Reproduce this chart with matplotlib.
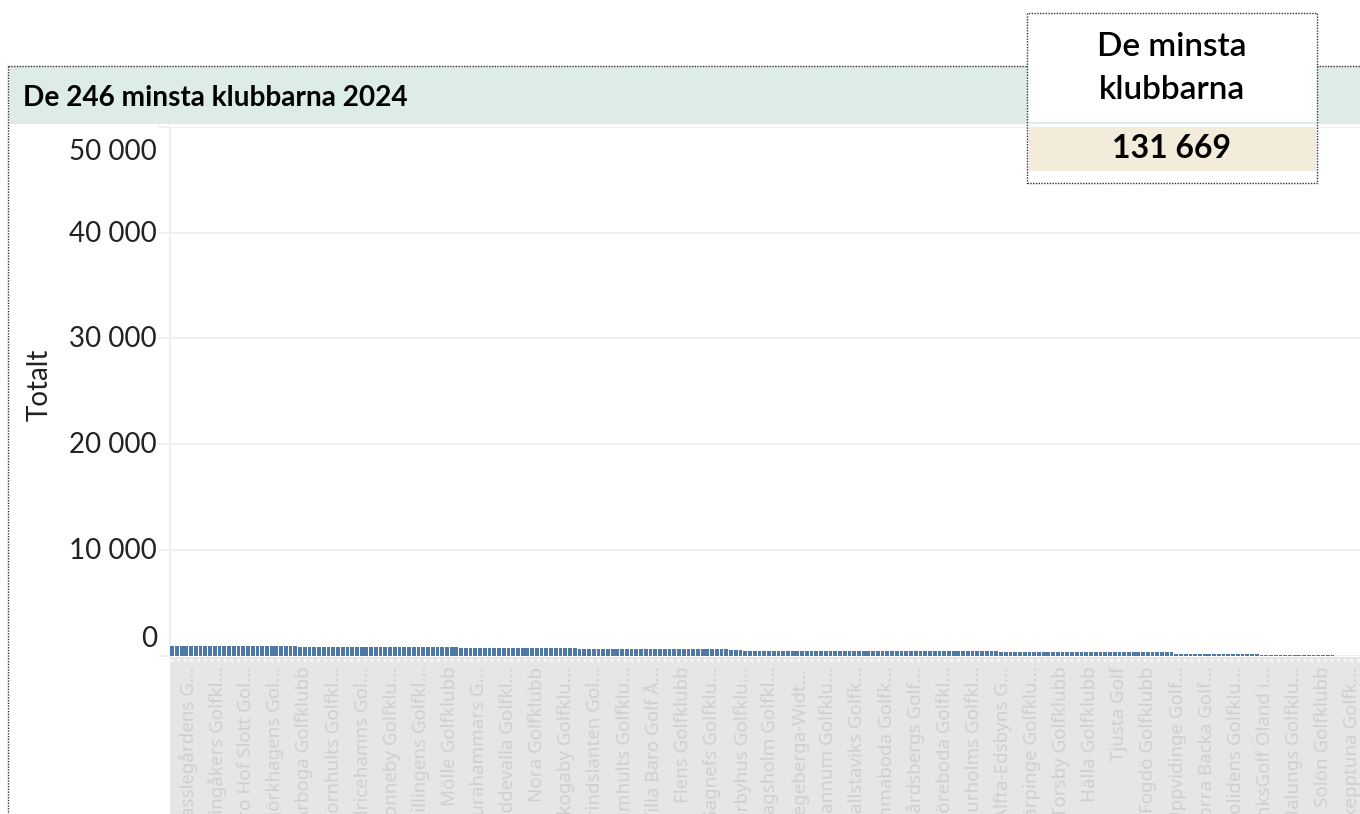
import matplotlib.pyplot as plt
from matplotlib.patches import Rectangle
from matplotlib.lines import Line2D
from matplotlib.transforms import blended_transform_factory, ScaledTranslation

plt.rcParams['font.family'] = ['Lato', 'DejaVu Sans']

# members per club, the 246 smallest clubs sorted descending
totals = [
    935, 930, 926, 922, 918, 914, 911, 908, 905, 902, 899, 896,
    893, 891, 889, 887, 885, 883, 881, 879, 877, 875, 873, 871,
    869, 867, 865,
    815, 812, 810, 808, 806, 804, 802, 800, 798, 796, 794, 792,
    790, 788, 786, 784, 782, 780, 778, 776, 774, 772, 770, 768,
    766, 765, 764, 763, 762, 761, 760, 759, 758, 757, 756, 755,
    754, 753, 752, 751, 750, 749, 748, 747, 746, 745, 744,
    698, 694, 691, 688, 685, 682, 679, 676, 673, 670, 667, 664,
    661, 658, 655, 652, 649, 646, 643, 640, 637, 634, 631, 628,
    625, 622, 619, 616, 613, 610, 607, 604, 601, 598, 595, 592,
    589, 586, 583, 580, 577, 574, 571, 568, 565, 562,
    476, 473, 470, 468, 466, 463, 461, 459, 457, 455, 453, 451,
    449, 447, 445, 443, 441, 439, 437, 435, 433, 431, 430, 428,
    426, 424, 423, 421, 419, 418, 416, 414, 413, 411, 409, 408,
    406, 405, 403, 402, 400, 399, 397, 396, 394, 393, 391, 390,
    388, 387, 385, 384, 383, 381, 380,
    372, 369, 366, 363, 361, 358, 355, 353, 350, 348, 345, 343,
    341, 338, 336, 334, 332, 330, 328, 326, 324, 322, 320, 318,
    316, 314, 312, 310, 308, 306, 304, 302, 300, 298, 296, 294,
    292,
    148, 142, 138, 135, 131, 128, 125, 122, 119, 116, 113, 110,
    108, 105, 103, 100, 98, 95, 93, 90, 88, 85, 83, 80,
    78, 75, 72, 70, 67, 64, 61, 58, 54, 50,
]

# the header labels that fit in the view
club_labels = [
    'Hässlegårdens G...', 'Vingåkers Golfkl...', 'Bro Hof Slott Gol...',
    'Björkhagens Gol...', 'Arboga Golfklubb', 'Björnhults Golfkl...',
    'Ulricehamns Gol...', 'Ronneby Golfklu...', 'Billingens Golfkl...',
    'Mölle Golfklubb', 'Surahammars G...', 'Uddevalla Golfkl...',
    'Nora Golfklubb', 'Skogaby Golfklu...', 'Grindslanten Gol...',
    'Älmhults Golfklu...', 'Villa Baro Golf Å...', 'Flens Golfklubb',
    'Gagnefs Golfklu...', 'Örbyhus Golfklu...', 'Dagsholm Golfkl...',
    'Degeberga-Widt...', 'Stannum Golfklu...', 'Hallstaviks Golfk...',
    'Emmaboda Golfk...', 'Vårdsbergs Golf...', 'Töreboda Golfkl...',
    'Bjurholms Golfkl...', 'Alfta-Edsbyns G...', 'Värpinge Golfklu...',
    'Torsby Golfklubb', 'Hälla Golfklubb', 'Tjusta Golf',
    'Fogdö Golfklubb', 'Uppvidinge Golf...', 'Norra Backa Golf...',
    'Bolidens Golfklu...', 'LinksGolf Öland i...', 'Malungs Golfklu...',
    'Solön Golfklubb', 'Skepptuna Golfk...',
]

yticks = [0, 10000, 20000, 30000, 40000, 50000]
title = 'De 246 minsta klubbarna 2024'
kpi_title = 'De minsta\nklubbarna'
kpi_value = 131669

W, H = 1360, 814
fig = plt.figure(figsize=(W / 100, H / 100), dpi=100)


def box(x0, y0, x1, y1):
    # pixel box (top-left origin) -> figure fraction rect
    return [x0 / W, 1 - y1 / H, (x1 - x0) / W, (y1 - y0) / H]


def fx(x):
    return x / W


def fy(y):
    return 1 - y / H


# title band + dotted outer border
fig.add_artist(Rectangle((fx(9), fy(123.5)), fx(1360) - fx(9), fy(66) - fy(123.5),
                         transform=fig.transFigure, facecolor='#deece9', edgecolor='none'))
fig.add_artist(Line2D([fx(8), fx(1360)], [fy(66), fy(66)], transform=fig.transFigure,
                      color='#333333', lw=1.0, ls=(0, (1, 1))))
fig.add_artist(Line2D([fx(8), fx(8)], [fy(66), fy(814)], transform=fig.transFigure,
                      color='#333333', lw=1.0, ls=(0, (1, 1))))
fig.text(fx(23), fy(97.5), title, fontsize=20.2, fontweight='bold', ha='left', va='center')

# bars
ax = fig.add_axes(box(170, 127, 1360, 655.5))
ax.bar(range(len(totals)), totals, width=0.8, color='#4e79a7', zorder=3)
ax.set_xlim(-0.46, 250.8)
ax.set_ylim(0, 50000)
ax.set_yticks(yticks)
ax.set_xticks([])
ax.tick_params(axis='y', length=9, width=1.2, color='#efefef', labelleft=False)
ax.yaxis.grid(True, color='#efefef', lw=1.3, zorder=0)
for s in ['top', 'right', 'bottom']:
    ax.spines[s].set_visible(False)
ax.spines['left'].set_color('#efefef')
ax.spines['left'].set_linewidth(1.3)

# y labels, Tableau keeps the end labels inside the pane
trans = blended_transform_factory(ax.transAxes, ax.transData)
for v in yticks:
    dy = -0.01
    if v == yticks[0]:
        dy = 0.165
    elif v == yticks[-1]:
        dy = -0.25
    ax.text(0, v, f'{v:,}'.replace(',', ' '), ha='right', va='center', fontsize=20,
            color='#222222',
            transform=trans + ScaledTranslation(-0.13, dy, fig.dpi_scale_trans))
fig.text(fx(40), fy(385), 'Totalt', rotation=90, ha='center', va='center',
         fontsize=20, color='#222222')

# header strip with club names
ax2 = fig.add_axes(box(170, 657, 1360, 814))
ax2.set_facecolor('#e6e6e6')
ax2.set_xlim(-0.62, 40.27)
ax2.set_ylim(0, 1)
ax2.set_xticks([])
ax2.set_yticks([])
for s in ax2.spines.values():
    s.set_visible(False)
ax2.axhline(1 - 2.5 / 157, color='#f6f6f6', lw=2, ls=(0, (1, 1.4)))
for i, name in enumerate(club_labels):
    ax2.text(i, 1 - 9.5 / 157, name, rotation=90, ha='center', va='top',
             fontsize=13.5, color='#cfcfcf', family=['Noto Sans', 'DejaVu Sans'])

# KPI card
fig.add_artist(Rectangle((fx(1027), fy(183)), fx(1317) - fx(1027), fy(13) - fy(183),
                         transform=fig.transFigure, facecolor='white', edgecolor='#333333',
                         lw=1.0, ls=(0, (1, 1)), zorder=5))
fig.add_artist(Rectangle((fx(1029), fy(124)), fx(1316) - fx(1029), fy(122) - fy(124),
                         transform=fig.transFigure, facecolor='#deece9', edgecolor='none',
                         zorder=6))
fig.add_artist(Rectangle((fx(1029), fy(171)), fx(1316) - fx(1029), fy(127) - fy(171),
                         transform=fig.transFigure, facecolor='#f3ecdb', edgecolor='none',
                         zorder=6))
for line, ypix in zip(kpi_title.split('\n'), [47.5, 90]):
    fig.text(fx(1172), fy(ypix), line, ha='center', va='center', fontsize=24,
             color='black', fontweight='semibold', zorder=7)
fig.text(fx(1171), fy(149), f'{kpi_value:,}'.replace(',', ' '), ha='center', va='center',
         fontsize=23, fontweight='bold', color='black', zorder=7)

fig.savefig('out.png', dpi=100)
